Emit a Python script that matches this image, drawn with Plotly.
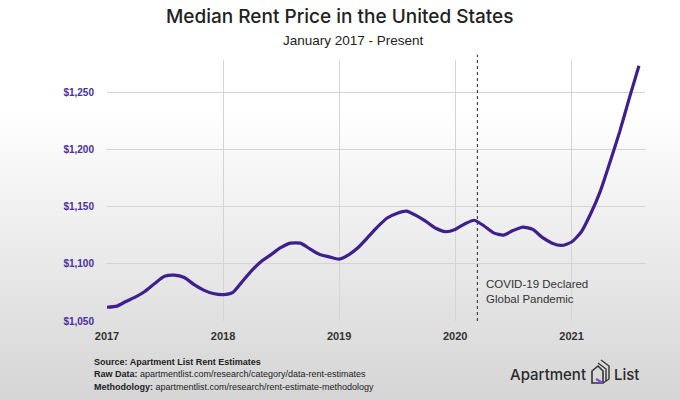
import plotly.graph_objects as go
import pandas as pd

# ---- data ----
months = pd.date_range("2017-01-01", periods=56, freq="MS")
median_rent = [1062, 1063, 1067, 1071, 1076, 1083, 1089, 1090, 1088, 1082, 1077, 1074,
               1073, 1075, 1084, 1094, 1102, 1108, 1114, 1118, 1118, 1113, 1108, 1106,
               1104, 1108, 1114, 1123, 1132, 1140, 1144, 1146, 1142, 1137, 1131, 1128,
               1130, 1135, 1138, 1133, 1127, 1125, 1129, 1132, 1130, 1123, 1118, 1116,
               1119, 1128, 1143, 1163, 1188, 1215, 1244, 1273]
year_ticks = ["2017-01-01", "2018-01-01", "2019-01-01", "2020-01-01", "2021-01-01"]
year_labels = ["2017", "2018", "2019", "2020", "2021"]
price_ticks = [1050, 1100, 1150, 1200, 1250]
covid_date = "2020-03-11"

W, H = 680, 400
ML, MR, MT, MB = 107, 35, 60, 79
PW, PH = W - ML - MR, H - MT - MB


def px(x):
    return (x - ML) / PW


def py(y):
    return (H - MB - y) / PH


fig = go.Figure()
fig.add_trace(go.Scatter(
    x=months, y=median_rent, mode="lines",
    line=dict(color="#3f1f8e", width=3.2, shape="spline", smoothing=0.6),
    hoverinfo="skip", showlegend=False))

shapes = []
# background gradient (white top -> light gray bottom)
nb = 50
for i in range(nb):
    y0p = H * i / nb
    y1p = H * (i + 1) / nb
    mid = (y0p + y1p) / 2
    v = 255 if mid < 110 else int(round(255 - (mid - 110) / 290 * 42))
    shapes.append(dict(type="rect", xref="paper", yref="paper",
                       x0=px(-5), x1=px(W + 5), y0=py(y1p + 0.5), y1=py(y0p - 0.5),
                       fillcolor=f"rgb({v},{v},{v})", line=dict(width=0), layer="below"))
# covid dotted line
shapes.append(dict(type="line", xref="x", yref="paper", x0=covid_date, x1=covid_date,
                   y0=0, y1=1.02, line=dict(color="#444", width=1.2, dash="dot")))
# logo icon
shapes.append(dict(type="path", xref="paper", yref="paper",
                   path=f"M {px(592)},{py(383)} L {px(592)},{py(371)} L {px(598)},{py(366)} L {px(603)},{py(371)} L {px(603)},{py(383)} Z",
                   line=dict(color="#333", width=1.6), fillcolor="rgba(0,0,0,0)"))
shapes.append(dict(type="path", xref="paper", yref="paper",
                   path=f"M {px(596)},{py(379)} L {px(603)},{py(383)}",
                   line=dict(color="#7b4fd6", width=2.2)))
shapes.append(dict(type="path", xref="paper", yref="paper",
                   path=f"M {px(598)},{py(363)} L {px(606)},{py(369)} L {px(606)},{py(381)} L {px(603)},{py(383)}",
                   line=dict(color="#333", width=1.4), fillcolor="rgba(0,0,0,0)"))
shapes.append(dict(type="path", xref="paper", yref="paper",
                   path=f"M {px(601)},{py(360)} L {px(609)},{py(366)} L {px(609)},{py(379)} L {px(606)},{py(381)}",
                   line=dict(color="#333", width=1.4), fillcolor="rgba(0,0,0,0)"))

annotations = [
    dict(text="Median Rent Price in the United States", xref="paper", yref="paper",
         x=px(340), y=py(17), xanchor="center", yanchor="middle", showarrow=False,
         font=dict(family="Inter", size=19, color="#222", weight=500)),
    dict(text="January 2017 - Present", xref="paper", yref="paper",
         x=px(353), y=py(40), xanchor="center", yanchor="middle", showarrow=False,
         font=dict(family="Liberation Sans", size=13.5, color="#222")),
    dict(text="COVID-19 Declared<br>Global Pandemic", xref="paper", yref="paper",
         x=px(484), y=py(291), xanchor="left", yanchor="middle", showarrow=False,
         align="left", font=dict(family="Liberation Sans", size=11.5, color="#333")),
    dict(text="<b>Source: Apartment List Rent Estimates</b>", xref="paper", yref="paper",
         x=px(92), y=py(362), xanchor="left", yanchor="middle", showarrow=False,
         font=dict(family="Liberation Sans", size=9, color="#222")),
    dict(text="<b>Raw Data:</b> apartmentlist.com/research/category/data-rent-estimates",
         xref="paper", yref="paper", x=px(92), y=py(374), xanchor="left", yanchor="middle",
         showarrow=False, font=dict(family="Liberation Sans", size=9, color="#222")),
    dict(text="<b>Methodology:</b> apartmentlist.com/research/rent-estimate-methodology",
         xref="paper", yref="paper", x=px(92), y=py(387), xanchor="left", yanchor="middle",
         showarrow=False, font=dict(family="Liberation Sans", size=9, color="#222")),
    dict(text="Apartment", xref="paper", yref="paper", x=px(588), y=py(374),
         xanchor="right", yanchor="middle", showarrow=False,
         font=dict(family="Inter", size=15, color="#2a2a2a", weight=500)),
    dict(text="List", xref="paper", yref="paper", x=px(612), y=py(374),
         xanchor="left", yanchor="middle", showarrow=False,
         font=dict(family="Inter", size=15, color="#2a2a2a", weight=500)),
]

fig.update_layout(
    width=W, height=H, margin=dict(l=ML, r=MR, t=MT, b=MB),
    paper_bgcolor="white", plot_bgcolor="rgba(0,0,0,0)",
    shapes=shapes, annotations=annotations, showlegend=False,
    xaxis=dict(type="date", range=["2017-01-01", "2021-08-20"], tickvals=year_ticks,
               ticktext=year_labels, showgrid=True, gridcolor="#d4d4d4", gridwidth=1,
               zeroline=False, showline=False, ticks="", ticklabelstandoff=7,
               tickfont=dict(family="Liberation Sans", size=11, color="#333", weight="bold")),
    yaxis=dict(range=[1050, 1278], tickvals=price_ticks,
               ticktext=[f"${v:,}" for v in price_ticks], showgrid=True,
               gridcolor="#d4d4d4", gridwidth=1, zeroline=False, showline=False, ticks="",
               ticklabelstandoff=12,
               tickfont=dict(family="Liberation Sans", size=10, color="#4a2fa0", weight="bold")),
)

fig.write_html("out.html", config={"displayModeBar": False},
               post_script="document.body.style.margin='0';document.body.style.overflow='hidden';")
